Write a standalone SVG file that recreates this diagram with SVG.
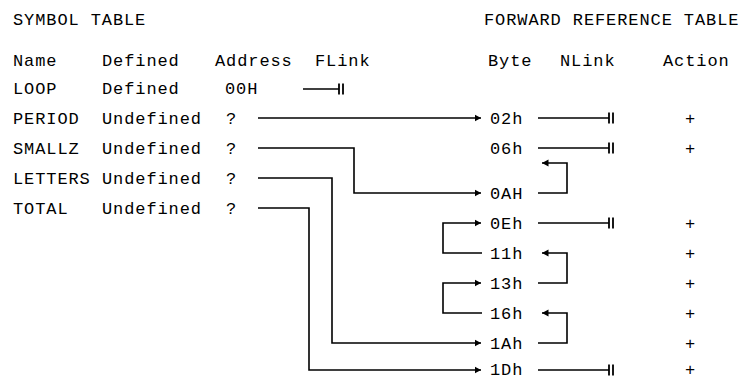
<svg xmlns="http://www.w3.org/2000/svg" xmlns:xlink="http://www.w3.org/1999/xlink" width="741" height="380" viewBox="0 0 741 380">
<style>
text{font-family:"Liberation Mono","DejaVu Sans Mono",monospace;font-size:17px;fill:#000;letter-spacing:0.9px}
.ln{fill:none;stroke:#000;stroke-width:1.6}
.plus{text-anchor:middle;letter-spacing:0}
</style>
<defs>
<marker id="ah" markerUnits="userSpaceOnUse" markerWidth="7" markerHeight="8" refX="6.5" refY="4" orient="auto">
<path d="M0,0.5 L6.5,4 L0,7.5 z" fill="#000"/>
</marker>
<g id="stop"><path d="M0,-5.5V5.5M4,-5.5V5.5" stroke="#000" stroke-width="1.8" fill="none"/></g>
</defs>
<rect width="741" height="380" fill="#fff"/>

<g id="titles">
<text x="13" y="25">SYMBOL TABLE</text>
<text x="484" y="25">FORWARD REFERENCE TABLE</text>
</g>
<g id="headers">
<text x="13" y="66">Name</text>
<text x="102" y="66">Defined</text>
<text x="215" y="66">Address</text>
<text x="315" y="66">FLink</text>
<text x="488" y="66">Byte</text>
<text x="560" y="66">NLink</text>
<text x="663" y="66">Action</text>
</g>

<g id="sym-loop"><text x="13" y="93.5">LOOP</text><text x="102" y="93.5">Defined</text><text x="225" y="93.5">00H</text></g>
<g id="sym-period"><text x="13" y="123.5">PERIOD</text><text x="102" y="123.5">Undefined</text><text x="226" y="123.5">?</text></g>
<g id="sym-smallz"><text x="13" y="153.5">SMALLZ</text><text x="102" y="153.5">Undefined</text><text x="226" y="153.5">?</text></g>
<g id="sym-letters"><text x="13" y="183.5">LETTERS</text><text x="102" y="183.5">Undefined</text><text x="226" y="183.5">?</text></g>
<g id="sym-total"><text x="13" y="213.5">TOTAL</text><text x="102" y="213.5">Undefined</text><text x="226" y="213.5">?</text></g>

<g id="ref-02h"><text x="490" y="123.5">02h</text><text class="plus" x="690" y="123.5">+</text></g>
<g id="ref-06h"><text x="490" y="153.5">06h</text><text class="plus" x="690" y="153.5">+</text></g>
<g id="ref-0AH"><text x="490" y="198.5">0AH</text></g>
<g id="ref-0Eh"><text x="490" y="228.5">0Eh</text><text class="plus" x="690" y="228.5">+</text></g>
<g id="ref-11h"><text x="490" y="258.5">11h</text><text class="plus" x="690" y="258.5">+</text></g>
<g id="ref-13h"><text x="490" y="288.5">13h</text><text class="plus" x="690" y="288.5">+</text></g>
<g id="ref-16h"><text x="490" y="318.5">16h</text><text class="plus" x="690" y="318.5">+</text></g>
<g id="ref-1Ah"><text x="490" y="348.5">1Ah</text><text class="plus" x="690" y="348.5">+</text></g>
<g id="ref-1Dh"><text x="490" y="374.5">1Dh</text><text class="plus" x="690" y="374.5">+</text></g>

<g id="connectors">
<path class="ln" d="M303,89H339"/>
<use xlink:href="#stop" x="339" y="89"/>
<path class="ln" d="M258,118H481" marker-end="url(#ah)"/>
<path class="ln" d="M258,148H354V193H481" marker-end="url(#ah)"/>
<path class="ln" d="M258,178H332V343H481" marker-end="url(#ah)"/>
<path class="ln" d="M258,208H309V370H481" marker-end="url(#ah)"/>

<path class="ln" d="M538,118H609"/><use xlink:href="#stop" x="609" y="118"/>
<path class="ln" d="M538,148H609"/><use xlink:href="#stop" x="609" y="148"/>
<path class="ln" d="M538,223H609"/><use xlink:href="#stop" x="609" y="223"/>
<path class="ln" d="M538,370H609"/><use xlink:href="#stop" x="609" y="370"/>

<path class="ln" d="M538,193H567V163H542" marker-end="url(#ah)"/>
<path class="ln" d="M538,283H567V253H542" marker-end="url(#ah)"/>
<path class="ln" d="M538,343H567V313H542" marker-end="url(#ah)"/>

<path class="ln" d="M482,253H443V223H481" marker-end="url(#ah)"/>
<path class="ln" d="M482,313H443V283H481" marker-end="url(#ah)"/>
</g>
</svg>
